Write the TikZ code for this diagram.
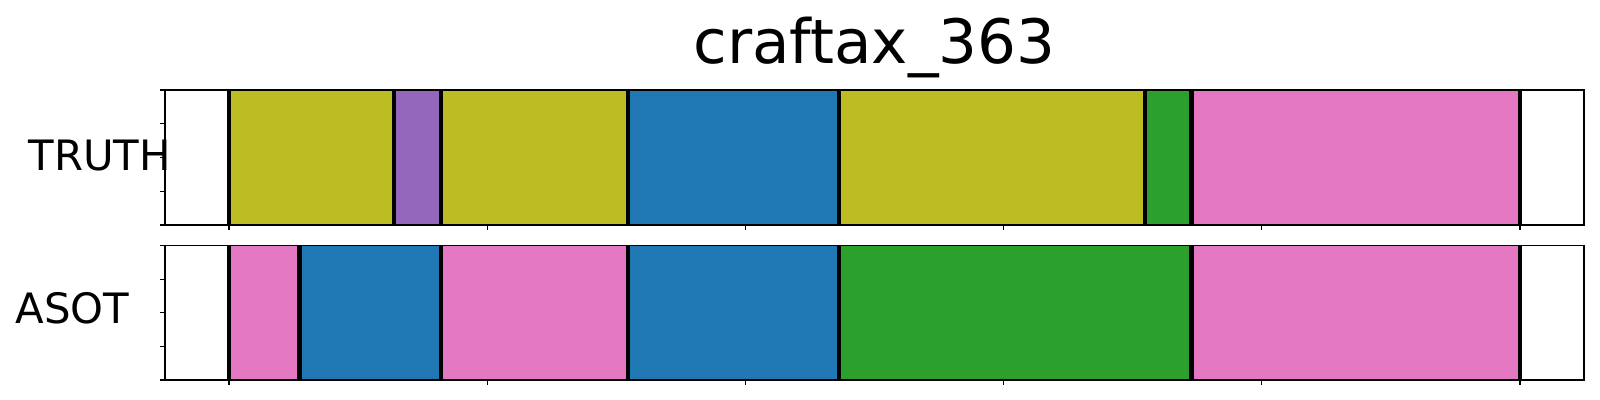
\documentclass[tikz,border=0pt]{standalone}
\usepackage{fontspec}
\setmainfont{DejaVu Sans}

% tab10 colours
\definecolor{segolive}{HTML}{BCBD22}
\definecolor{segpurple}{HTML}{9467BD}
\definecolor{segblue}{HTML}{1F77B4}
\definecolor{seggreen}{HTML}{2CA02C}
\definecolor{segpink}{HTML}{E377C2}

\tikzset{
  axisframe/.style={line width=0.38pt, black},
  cutline/.style={line width=1.22pt, black},
  tickmark/.style={line width=0.32pt, black},
  segfill/.style={fill=#1, draw=#1!80!black, line width=0.3pt},
  rowlabel/.style={anchor=base west, inner sep=0pt, font=\fontsize{11.9}{14}\selectfont}
}

\begin{document}
\begin{tikzpicture}[x=0.01cm, y=-0.01cm]
\useasboundingbox (0,0) rectangle (1600,400);

% Title
\node[anchor=base, inner sep=0pt, font=\fontsize{17.4}{21}\selectfont] (title) at (874.5,63) {craftax\_363};

% TRUTH row
\foreach \xa/\xb/\col in {229/393.7/segolive, 393.7/440.7/segpurple, 440.7/628/segolive, 628/839/segblue,
                          839/1145/segolive, 1145/1191.5/seggreen, 1191.5/1520/segpink}
  \draw[segfill=\col] (\xa,90) rectangle (\xb,225);
\foreach \xc in {229,393.7,440.7,628,839,1145,1191.5,1520}
  \draw[cutline] (\xc,90) -- (\xc,225);
\draw[axisframe] (165,90) rectangle (1584,225);
\node[rowlabel] (truth) at (28,170) {TRUTH};

% ASOT row
\foreach \xa/\xb/\col in {229/299.5/segpink, 299.5/440.7/segblue, 440.7/628/segpink, 628/839/segblue,
                          839/1191.5/seggreen, 1191.5/1520/segpink}
  \draw[segfill=\col] (\xa,245.5) rectangle (\xb,380);
\foreach \xc in {229,299.5,440.7,628,839,1191.5,1520}
  \draw[cutline] (\xc,245.5) -- (\xc,380);
\draw[axisframe] (165,245.5) rectangle (1584,380);
\node[rowlabel] (asot) at (15,323) {ASOT};

% Ticks
\foreach \yt in {90,123.75,157.5,191.25,225}
  \draw[tickmark] (165,\yt) -- ++(-5,0);
\foreach \yt in {245.5,279.1,312.75,346.4,380}
  \draw[tickmark] (165,\yt) -- ++(-5,0);
\foreach \xt in {229,487.2,745.4,1003.6,1261.8,1520} {
  \draw[tickmark] (\xt,225) -- ++(0,5);
  \draw[tickmark] (\xt,380) -- ++(0,5);
}

\end{tikzpicture}
\end{document}
